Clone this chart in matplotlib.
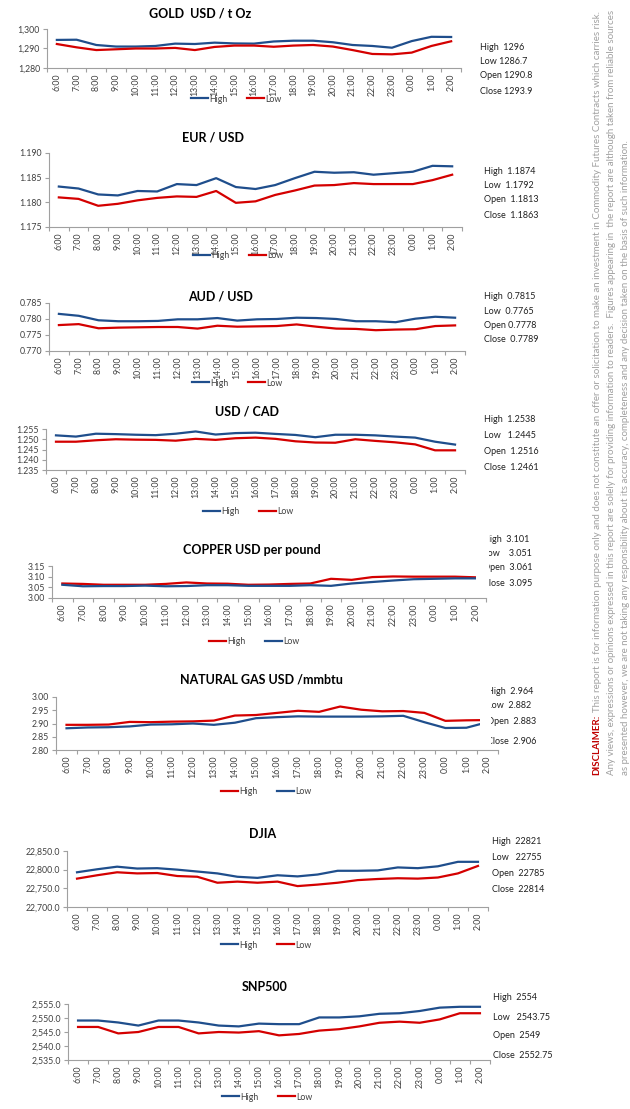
import matplotlib
matplotlib.use("Agg")
import matplotlib.pyplot as plt
from matplotlib.patches import Rectangle
from matplotlib.ticker import FuncFormatter

plt.rcParams['font.family'] = ['Lato', 'DejaVu Sans']

W, H = 630, 1109

hours = ["6:00", "7:00", "8:00", "9:00", "10:00", "11:00", "12:00", "13:00", "14:00",
         "15:00", "16:00", "17:00", "18:00", "19:00", "20:00", "21:00", "22:00", "23:00",
         "0:00", "1:00", "2:00"]

# valores
gold_high = [1294.4, 1294.5, 1291.8, 1291.0, 1291.0, 1291.3, 1292.5, 1292.3, 1293.0, 1292.6, 1292.5,
             1293.6, 1294.0, 1294.0, 1293.2, 1291.8, 1291.3, 1290.4, 1293.8, 1296.0, 1295.9]
gold_low = [1292.3, 1290.6, 1289.2, 1289.6, 1290.0, 1290.0, 1290.3, 1289.2, 1290.8, 1291.5, 1291.5,
            1290.9, 1291.5, 1291.8, 1291.0, 1289.2, 1287.2, 1287.0, 1287.9, 1291.3, 1293.7]
gold_stats = ["High  1296", "Low 1286.7", "Open 1290.8", "Close 1293.9"]

eur_high = [1.1832, 1.1828, 1.1816, 1.1814, 1.1823, 1.1822, 1.1837, 1.1835, 1.1849, 1.1831, 1.1827,
            1.1835, 1.1849, 1.1862, 1.1860, 1.1861, 1.1856, 1.1859, 1.1862, 1.1874, 1.1873]
eur_low = [1.1810, 1.1807, 1.1793, 1.1797, 1.1804, 1.1809, 1.1812, 1.1811, 1.1823, 1.1799, 1.1802,
           1.1815, 1.1824, 1.1834, 1.1835, 1.1839, 1.1837, 1.1837, 1.1837, 1.1845, 1.1856]
eur_stats = ["High  1.1874", "Low  1.1792", "Open  1.1813", "Close  1.1863"]

aud_high = [0.7816, 0.7810, 0.7796, 0.7793, 0.7793, 0.7794, 0.7799, 0.7799, 0.7803, 0.7795, 0.7799,
            0.7800, 0.7804, 0.7803, 0.7800, 0.7793, 0.7793, 0.7790, 0.7801, 0.7807, 0.7804]
aud_low = [0.7781, 0.7784, 0.7771, 0.7773, 0.7774, 0.7775, 0.7775, 0.7770, 0.7779, 0.7776, 0.7777,
           0.7778, 0.7783, 0.7776, 0.7770, 0.7769, 0.7765, 0.7767, 0.7768, 0.7778, 0.7780]
aud_stats = ["High  0.7815", "Low  0.7765", "Open 0.7778", "Close  0.7789"]

cad_high = [1.2519, 1.2513, 1.2527, 1.2525, 1.2522, 1.2520, 1.2527, 1.2538, 1.2523, 1.2530, 1.2532,
            1.2526, 1.2521, 1.2510, 1.2522, 1.2522, 1.2519, 1.2513, 1.2508, 1.2488, 1.2474]
cad_low = [1.2488, 1.2488, 1.2495, 1.2500, 1.2498, 1.2497, 1.2493, 1.2502, 1.2497, 1.2505, 1.2508,
           1.2502, 1.2490, 1.2484, 1.2483, 1.2500, 1.2492, 1.2485, 1.2475, 1.2446, 1.2446]
cad_stats = ["High  1.2538", "Low   1.2445", "Open  1.2516", "Close  1.2461"]

copper_high = [3.068, 3.066, 3.062, 3.062, 3.062, 3.066, 3.073, 3.068, 3.067, 3.062, 3.063,
               3.066, 3.068, 3.090, 3.085, 3.098, 3.101, 3.100, 3.100, 3.100, 3.097]
copper_low = [3.062, 3.055, 3.056, 3.056, 3.058, 3.055, 3.056, 3.060, 3.060, 3.057, 3.057,
              3.057, 3.060, 3.057, 3.068, 3.075, 3.082, 3.088, 3.090, 3.092, 3.092]
copper_stats = ["High  3.101", "Low    3.051", "Open  3.061", "Close  3.095"]

gas_high = [2.895, 2.895, 2.896, 2.906, 2.905, 2.907, 2.908, 2.911, 2.930, 2.932, 2.940,
            2.948, 2.944, 2.964, 2.952, 2.946, 2.947, 2.940, 2.910, 2.912, 2.913]
gas_low = [2.882, 2.885, 2.886, 2.889, 2.896, 2.897, 2.900, 2.895, 2.903, 2.920, 2.924,
           2.927, 2.926, 2.926, 2.926, 2.927, 2.929, 2.905, 2.883, 2.884, 2.905]
gas_stats = ["High  2.964", "Low  2.882", "Open  2.883", "Close  2.906"]

djia_high = [22793, 22801, 22808, 22803, 22804, 22800, 22795, 22790, 22781, 22778, 22785,
             22782, 22787, 22797, 22797, 22798, 22806, 22804, 22809, 22821, 22821]
djia_low = [22776, 22785, 22793, 22790, 22791, 22783, 22781, 22765, 22768, 22765, 22768,
            22756, 22760, 22765, 22772, 22775, 22777, 22776, 22779, 22790, 22810]
djia_stats = ["High  22821", "Low   22755", "Open  22785", "Close  22814"]

snp_high = [2549.1, 2549.1, 2548.4, 2547.3, 2549.1, 2549.1, 2548.4, 2547.3, 2547.0, 2548.0, 2547.8,
            2547.8, 2550.2, 2550.2, 2550.6, 2551.5, 2551.7, 2552.5, 2553.7, 2554.0, 2554.0]
snp_low = [2546.8, 2546.8, 2544.5, 2545.0, 2546.8, 2546.8, 2544.5, 2545.0, 2544.8, 2545.3, 2543.8,
           2544.3, 2545.5, 2546.0, 2547.0, 2548.3, 2548.7, 2548.3, 2549.5, 2551.7, 2551.7]
snp_stats = ["High  2554", "Low   2543.75", "Open  2549", "Close  2552.75"]

BLUE = "#1f4e8c"
RED = "#d40000"
GRAY = "#404040"

fig = plt.figure(figsize=(W / 100, H / 100), dpi=100)


def fx(x):
    return x / W


def fy(y):
    return 1 - y / H


def grafico(title, high, low, yticks, fmt, stats, box, title_xy, stats_x, stats_ys,
            leg_xy, high_color, low_color):
    left, right, top, bottom = box
    ax = fig.add_axes([fx(left), fy(bottom), (right - left) / W, (bottom - top) / H])
    x = list(range(len(hours)))
    ax.plot(x, high, color=high_color, lw=1.6, label="High")
    ax.plot(x, low, color=low_color, lw=1.6, label="Low")
    ax.set_xlim(-0.5, len(hours) - 0.5)
    ax.set_ylim(yticks[0], yticks[-1])
    ax.set_yticks(yticks)
    ax.yaxis.set_major_formatter(FuncFormatter(lambda v, p: fmt.format(v)))
    # marcas entre as categorias, rotulos no centro
    ax.set_xticks([i - 0.5 for i in range(len(hours) + 1)])
    ax.set_xticklabels([])
    ax.set_xticks(x, minor=True)
    ax.set_xticklabels(hours, minor=True, rotation=90, fontsize=6.3, color=GRAY)
    ax.tick_params(axis="x", which="major", length=3, color="#a0a0a0", width=0.8)
    ax.tick_params(axis="x", which="minor", length=0, pad=4)
    ax.tick_params(axis="y", length=3, color="#a0a0a0", width=0.8, labelsize=6.3,
                   labelcolor=GRAY, pad=2)
    for s in ["top", "right"]:
        ax.spines[s].set_visible(False)
    for s in ["left", "bottom"]:
        ax.spines[s].set_color("#a0a0a0")
        ax.spines[s].set_linewidth(0.8)
    ax.set_facecolor("none")
    fig.text(fx(title_xy[0]), fy(title_xy[1]), title, ha="center", va="center",
             fontsize=9, fontweight="bold", color="black")
    for s, yy in zip(stats, stats_ys):
        fig.text(fx(stats_x), fy(yy), s, ha="left", va="center", fontsize=6.5, color="#202020")
    ax.legend(loc="center", bbox_to_anchor=(fx(leg_xy[0]), fy(leg_xy[1])),
              bbox_transform=fig.transFigure, ncol=2, frameon=False, fontsize=6.3,
              handlelength=2.0, handletextpad=0.1, columnspacing=2.2, borderpad=0,
              labelcolor=GRAY)
    return ax


grafico("GOLD  USD / t Oz", gold_high, gold_low, [1280, 1290, 1300], "{:,.0f}", gold_stats,
        (47, 461, 29, 68), (200, 13), 480, [47, 62, 76, 92], (236, 99), BLUE, RED)
grafico("EUR / USD", eur_high, eur_low, [1.175, 1.180, 1.185, 1.190], "{:.3f}", eur_stats,
        (49, 462, 153, 227), (213, 137), 484, [171, 186, 200, 215], (238, 256), BLUE, RED)
grafico("AUD / USD", aud_high, aud_low, [0.770, 0.775, 0.780, 0.785], "{:.3f}", aud_stats,
        (49, 465, 303, 351), (220, 297), 484, [296, 311, 325, 339], (237, 383), BLUE, RED)
grafico("USD / CAD", cad_high, cad_low, [1.235, 1.240, 1.245, 1.250, 1.255], "{:.3f}", cad_stats,
        (46, 465, 429, 470), (247, 412), 484, [420, 436, 452, 468], (248, 512), BLUE, RED)
grafico("COPPER USD per pound", copper_high, copper_low, [3.00, 3.05, 3.10, 3.15], "{:.2f}",
        copper_stats, (52, 486, 566, 598), (252, 550), 483, [540, 554, 568, 583], (254, 642),
        RED, BLUE)
grafico("NATURAL GAS USD /mmbtu", gas_high, gas_low, [2.80, 2.85, 2.90, 2.95, 3.00], "{:.2f}",
        gas_stats, (56, 498, 697, 750), (261, 679), 487, [691, 706, 721, 741], (266, 792),
        RED, BLUE)
grafico("DJIA", djia_high, djia_low, [22700, 22750, 22800, 22850], "{:,.1f}", djia_stats,
        (67, 488, 851, 907), (263, 834), 492, [842, 857, 873, 890], (266, 945), BLUE, RED)
grafico("SNP500", snp_high, snp_low, [2535, 2540, 2545, 2550, 2555], "{:,.1f}", snp_stats,
        (68, 490, 1004, 1060), (265, 987), 493, [998, 1017, 1036, 1055], (267, 1097), BLUE, RED)

# area do grafico cobre parte do texto (como no original)
for (x0, x1, y0, y1) in [(476, 489, 533, 590), (480, 491, 684, 748)]:
    fig.patches.append(Rectangle((fx(x0), fy(y1)), (x1 - x0) / W, (y1 - y0) / H,
                                 transform=fig.transFigure, facecolor="white",
                                 edgecolor="none", zorder=5))

# aviso legal na lateral
disc1 = ("This report is for information purpose only and does not constitute an offer or "
         "solicitation to make an investment in Commodity Futures Contracts which carries risk.")
disc2 = ("Any views, expressions or opinions expressed in this report are solely for providing "
         "information to readers.  Figures appearing in  the report are although taken from "
         "reliable sources")
disc3 = ("as presented however, we are not taking any responsibility about its accuracy, "
         "completeness and any decision taken on the basis of such information.")

renderer = fig.canvas.get_renderer()
red = fig.text(fx(597), fy(775), "DISCLAIMER:", rotation=90, ha="center", va="bottom",
               fontsize=7, fontweight="bold", color="#c00000")
bb = red.get_window_extent(renderer)
fig.text(fx(597), (bb.y1 + 3) / H, disc1, rotation=90, ha="center", va="bottom",
         fontsize=7, color="#a0a0a0")
fig.text(fx(612), fy(775), disc2, rotation=90, ha="center", va="bottom",
         fontsize=7, color="#a0a0a0")
fig.text(fx(626), fy(775), disc3, rotation=90, ha="center", va="bottom",
         fontsize=7, color="#a0a0a0")

fig.savefig("out.png", dpi=100, facecolor="white")
